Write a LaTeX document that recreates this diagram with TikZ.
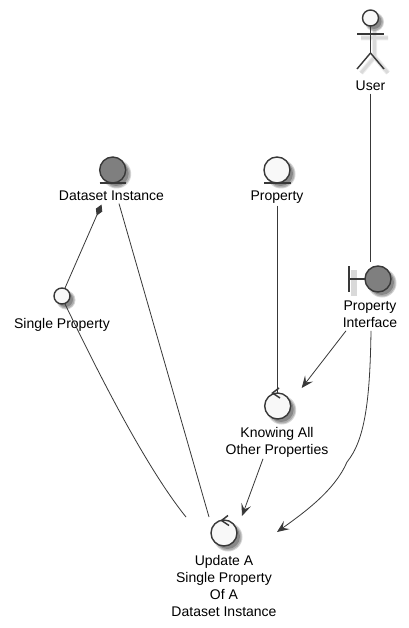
\documentclass[tikz,border=0pt]{standalone}
\usepackage{fontspec}
\setmainfont{Liberation Sans}
\usetikzlibrary{arrows.meta}
\definecolor{ink}{HTML}{383838}
\definecolor{pale}{HTML}{F8F8F8}
\definecolor{midgray}{HTML}{7F7F7F}
\newcommand{\roundshade}[3]{%
  \fill[black,opacity=.16] (#1+4,#2+4) circle (#3+1.5);
  \fill[black,opacity=.18] (#1+4,#2+4) circle (#3+.5);
  \fill[black,opacity=.22] (#1+3.5,#2+3.5) circle (#3-.5);
}
\newcommand{\lineshade}[1]{%
  \draw[black,opacity=.07,line width=5pt] #1;
  \draw[black,opacity=.08,line width=3pt] #1;
}
\tikzset{
  x=1pt,y=-1pt,
  lbl/.style={anchor=south,inner sep=0pt,outer sep=0pt,align=center,text depth=0pt,text=black,
    font=\fontsize{14}{17}\selectfont},
  icon/.style={circle,draw=ink,line width=1.4pt,inner sep=0pt,outer sep=0pt,minimum size=26pt,fill=pale},
  darkicon/.style={icon,fill=midgray},
  dot/.style={icon,minimum size=16pt},
  stroke/.style={draw=ink,line width=1.4pt},
  link/.style={draw=ink,line width=.8pt},
  openhead/.style={-{Stealth[length=12pt,width=10pt,inset=5pt,fill=ink]}},
  turn/.style={draw=ink,line width=1.5pt,line join=miter},
}
\begin{document}
\begin{tikzpicture}
\useasboundingbox (0,0) rectangle (408,628);
\fill[white] (0,0) rectangle (408,628);
% shadows
\roundshade{370.5}{18}{8}
\lineshade{(361,38) -- (388,38) (374.5,30) -- (374.5,57) -- (361,73) (374.5,57) -- (388,73)}
\roundshade{112.7}{170}{13}
\roundshade{277}{170}{13}
\roundshade{62}{296}{8}
\roundshade{378}{279}{13}
\roundshade{277.7}{406}{13}
\roundshade{224}{533}{13}
\fill[black,opacity=.15] (351,270) rectangle (357,296);
% icons
\node[dot] (userhead) at (370.5,18) {};
\node[darkicon] (dsicon) at (112.7,170) {};
\node[icon] (propicon) at (277,170) {};
\node[dot] (singleicon) at (62,296) {};
\node[darkicon] (ificon) at (378,279) {};
\node[icon] (knowicon) at (277.7,406) {};
\node[icon] (updicon) at (224,533) {};
% actor
\coordinate (hip) at (370.5,53);
\draw[stroke] (userhead.south) -- (hip);
\draw[stroke] (357,34) -- (384,34);
\draw[stroke] (357,69) -- (hip) -- (384,69);
% underlines and bar
\draw[stroke] (99.5,183) -- (126,183);
\draw[stroke] (264,183) -- (290.5,183);
\draw[stroke] (349,266) -- (349,292);
\draw[stroke] (349,279) -- (ificon.west);
% control arrows
\draw[turn] (279,388) -- (272.5,393) -- (280,398);
\draw[turn] (228,515.5) -- (221.5,520.5) -- (229,525.5);
% labels
\node[lbl] (userlbl) at (370.5,90.6) {User};
\node[lbl] (dslbl) at (111.5,200.6) {Dataset Instance};
\node[lbl] (proplbl) at (277,200.6) {Property};
\node[lbl] (singlelbl) at (62,328.4) {Single Property};
\node[lbl] (iflbl) at (370,327.8) {Property\\Interface};
\node[lbl] (knowlbl) at (277,454.8) {Knowing All\\Other Properties};
\node[lbl] (updlbl) at (224,616) {Update A\\Single Property\\Of A\\Dataset Instance};
% connectors
\draw[link] ([yshift=-3]userlbl.south) -- ([xshift=-7.5,yshift=4]ificon.north);
\draw[link] ([yshift=-5]proplbl.south) -- ([xshift=-.7]knowicon.north);
\draw[link,{Diamond[length=12pt,width=7pt,fill=ink]}-] ([xshift=-10,yshift=-4]dslbl.south) -- ([xshift=3]singleicon.north);
\draw[link] ([xshift=3]singleicon.south) .. controls (85,345) and (140,460) .. ([xshift=-38,yshift=3]updicon.north);
\draw[link] ([xshift=7.5,yshift=-3]dslbl.south) -- ([xshift=-15,yshift=3]updicon.north);
\draw[link,openhead] ([xshift=-24,yshift=-3]iflbl.south) -- ([xshift=24,yshift=5]knowicon.north);
\draw[link,openhead] ([xshift=-14,yshift=-4]knowlbl.south) -- ([xshift=18,yshift=4]updicon.north);
\draw[link,openhead] ([xshift=1,yshift=-3]iflbl.south) .. controls (370,400) and (365,440) .. (347,462) .. controls (335,490) and (305,512) .. ([xshift=40,yshift=1]updicon.east);
\end{tikzpicture}
\end{document}
